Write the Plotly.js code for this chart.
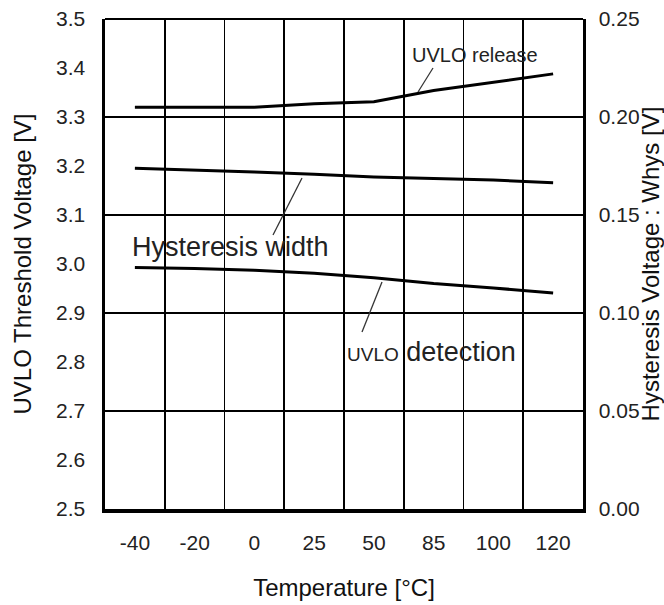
<!DOCTYPE html>
<html>
<head>
<meta charset="utf-8">
<script src="https://cdn.plot.ly/plotly-3.0.1.min.js"></script>
<style>html,body{margin:0;padding:0;background:#fff;}#chart{width:664px;height:605px;}</style>
</head>
<body>
<div id="chart"></div>
<script>
// Temperature categories (°C)
const categories = ['-40', '-20', '0', '25', '50', '85', '100', '120'];
// UVLO release threshold [V] (left axis)
const releaseV = [3.320, 3.320, 3.320, 3.327, 3.331, 3.354, 3.371, 3.388];
// UVLO detection threshold [V] (left axis)
const detectionV = [2.993, 2.991, 2.987, 2.981, 2.972, 2.960, 2.951, 2.941];
// Hysteresis width [V] (right axis)
const hysteresisV = [0.1738, 0.1730, 0.1720, 0.1708, 0.1694, 0.1686, 0.1678, 0.1665];

const FONT = 'Liberation Sans, Arial, sans-serif';
const lineStyle = {color: '#000', width: 3};

const traces = [
  {x: categories, y: releaseV, type: 'scatter', mode: 'lines', line: lineStyle, name: 'UVLO release', xaxis: 'x', yaxis: 'y'},
  {x: categories, y: detectionV, type: 'scatter', mode: 'lines', line: lineStyle, name: 'UVLO detection', xaxis: 'x', yaxis: 'y'},
  {x: categories, y: hysteresisV, type: 'scatter', mode: 'lines', line: lineStyle, name: 'Hysteresis width', xaxis: 'x', yaxis: 'y2'}
];

const leader = {color: '#333', width: 1.3};
function px2x(p) { return (p - 105) / 478; }
function py2y(p) { return (509 - p) / 490; }

const layout = {
  width: 664, height: 605,
  margin: {l: 105, r: 81, t: 19, b: 96, pad: 0},
  paper_bgcolor: '#fff', plot_bgcolor: '#fff',
  showlegend: false,
  hovermode: false,
  font: {family: FONT, color: '#111'},
  xaxis: {
    type: 'category', range: [-0.5, 7.5],
    tickson: 'boundaries', showgrid: true, gridcolor: '#000', gridwidth: 1.6,
    ticks: '', ticklabelstandoff: 12,
    showline: true, linecolor: '#000', linewidth: 3.5,
    tickfont: {family: FONT, size: 21, color: '#222'},
    title: {text: 'Temperature [°C]', font: {family: FONT, size: 24, color: '#111'}, standoff: 27},
    fixedrange: true
  },
  yaxis: {
    range: [2.5, 3.5], dtick: 0.1, tickformat: '.1f',
    showgrid: false, zeroline: false,
    ticks: 'outside', ticklen: 12, tickcolor: 'rgba(0,0,0,0)',
    showline: true, linecolor: '#000', linewidth: 3.5,
    tickfont: {family: FONT, size: 21, color: '#222'},
    title: {text: 'UVLO Threshold Voltage [V]', font: {family: FONT, size: 24, color: '#111'}, standoff: 18},
    fixedrange: true
  },
  yaxis2: {
    overlaying: 'y', side: 'right',
    range: [0, 0.25], dtick: 0.05, tickformat: '.2f',
    showgrid: true, gridcolor: '#000', gridwidth: 1.6, zeroline: false,
    ticks: 'outside', ticklen: 9, tickcolor: 'rgba(0,0,0,0)',
    showline: true, linecolor: '#000', linewidth: 2.5,
    tickfont: {family: FONT, size: 21, color: '#222'},
    title: {text: 'Hysteresis Voltage : Whys [V]', font: {family: FONT, size: 24, color: '#111'}, standoff: 1},
    fixedrange: true
  },
  shapes: [
    {type: 'line', xref: 'paper', yref: 'paper', x0: 0, x1: 1, y0: 1, y1: 1, line: {color: '#000', width: 2}},
    {type: 'line', xref: 'paper', yref: 'paper', x0: px2x(433), y0: py2y(68), x1: px2x(418), y1: py2y(92), line: leader},
    {type: 'line', xref: 'paper', yref: 'paper', x0: px2x(302), y0: py2y(178), x1: px2x(273), y1: py2y(235), line: leader},
    {type: 'line', xref: 'paper', yref: 'paper', x0: px2x(382), y0: py2y(282), x1: px2x(362), y1: py2y(332), line: leader}
  ],
  annotations: [
    {xref: 'paper', yref: 'paper', x: px2x(475), y: py2y(55), xanchor: 'center', yanchor: 'middle', showarrow: false,
     text: 'UVLO release', font: {family: FONT, size: 20, color: '#222'}},
    {xref: 'paper', yref: 'paper', x: px2x(230), y: py2y(247), xanchor: 'center', yanchor: 'middle', showarrow: false,
     text: 'Hysteresis width', font: {family: FONT, size: 27, color: '#222'}},
    {xref: 'paper', yref: 'paper', x: px2x(431), y: py2y(352), xanchor: 'center', yanchor: 'middle', showarrow: false,
     text: '<span style="font-size:19px">UVLO</span> detection', font: {family: FONT, size: 27, color: '#222'}}
  ]
};

Plotly.newPlot('chart', traces, layout, {displayModeBar: false, staticPlot: true});
</script>
</body>
</html>
